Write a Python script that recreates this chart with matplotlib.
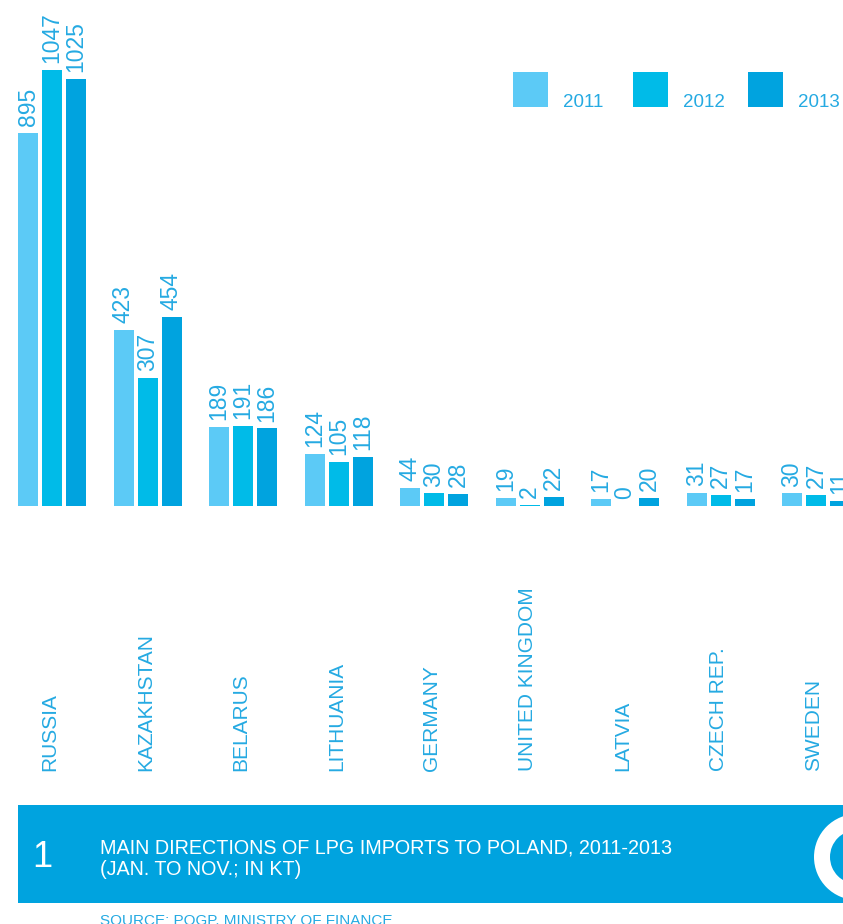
import matplotlib.pyplot as plt
from matplotlib.patches import Rectangle, Wedge
from matplotlib import transforms

plt.rcParams['font.family'] = ['Liberation Sans', 'DejaVu Sans']

countries = ['RUSSIA', 'KAZAKHSTAN', 'BELARUS', 'LITHUANIA', 'GERMANY',
             'UNITED KINGDOM', 'LATVIA', 'CZECH REP.', 'SWEDEN']
years = ['2011', '2012', '2013']
v2011 = [895, 423, 189, 124, 44, 19, 17, 31, 30]
v2012 = [1047, 307, 191, 105, 30, 2, 0, 27, 27]
v2013 = [1025, 454, 186, 118, 28, 22, 20, 17, 11]
series = [v2011, v2012, v2013]
colors = ['#5ccaf6', '#00bbe8', '#00a3df']
txt_blue = '#25aae2'

W, H = 843, 924
fig = plt.figure(figsize=(W / 100, H / 100), dpi=100)

# background axes in pixel units
bg = fig.add_axes([0, 0, 1, 1])
bg.set_xlim(0, W)
bg.set_ylim(H, 0)
bg.axis('off')

# bar axes: baseline at y=506px, 0.4168 px per kt, groups 95.5 px apart
base = 506
scale = 0.4168
step = 95.5
x0 = 52
ax = fig.add_axes([0, (H - base) / H, 1, (base - 30) / H])
ax.set_ylim(0, (base - 30) / scale)
ax.set_xlim(-x0 / step, (W - x0) / step)
ax.axis('off')

width = 20 / step
offs = [-24 / step, 0, 24 / step]
for vals, off, c in zip(series, offs, colors):
    xs = [i + off for i in range(len(countries))]
    ax.bar(xs, vals, width=width, color=c, edgecolor='none', clip_on=False)
    for x, v in zip(xs, vals):
        ax.annotate(str(v), (x, v), xytext=(0, 5), textcoords='offset points',
                    rotation=90, ha='center', va='bottom', fontsize=16.5,
                    color=txt_blue, annotation_clip=False)

# country names under the groups
tr = transforms.blended_transform_factory(ax.transData, bg.transData)
for i, name in enumerate(countries):
    ax.text(i - 2 / step, 771, name, transform=tr, rotation=90, ha='center',
            va='bottom', fontsize=15, color=txt_blue, clip_on=False)

# legend
leg_x = [513, 633, 748]
for lx, c, yr in zip(leg_x, colors, years):
    bg.add_patch(Rectangle((lx, 72), 35, 35, color=c, lw=0))
    bg.text(lx + 50, 107, yr, fontsize=13.5, color=txt_blue,
            ha='left', va='baseline')

# title banner
bg.add_patch(Rectangle((18, 805), W, 98, color='#00a3df', lw=0))
bg.add_patch(Wedge((857, 857), 43, 0, 360, width=16, color='white', lw=0))
bg.text(32, 867, '1', fontsize=26, color='white',
        va='baseline', ha='left')
bg.text(100, 853, 'MAIN DIRECTIONS OF LPG IMPORTS TO POLAND, 2011-2013',
        fontsize=14.2, color='white', va='baseline')
bg.text(100, 875, '(JAN. TO NOV.; IN KT)',
        fontsize=14.2, color='white', va='baseline')
bg.text(100, 925, 'SOURCE: POGP, MINISTRY OF FINANCE',
        fontsize=11, color=txt_blue, va='baseline')

fig.savefig('out.png', dpi=100)
